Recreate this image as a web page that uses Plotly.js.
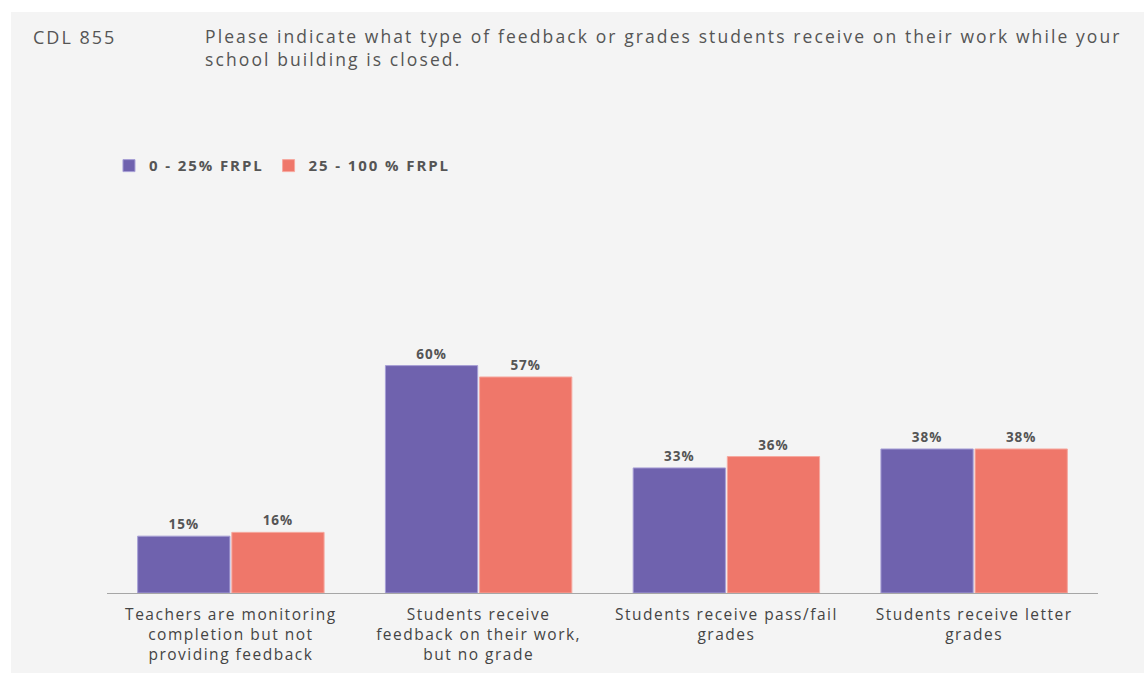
<!DOCTYPE html>
<html>
<head>
<meta charset="utf-8">
<script src="https://cdn.plot.ly/plotly-3.0.1.min.js"></script>
<style>
  html, body { margin: 0; padding: 0; background: #ffffff; width: 1144px; height: 673px; overflow: hidden; }
  #chart { position: absolute; left: 11px; top: 12px; width: 1133px; height: 661px; }
  .xtick text { letter-spacing: 1.5px; }
  .legendtext { letter-spacing: 1.9px; }
  .bartext { letter-spacing: 1px; }
  .annotation[data-index="0"] text { letter-spacing: 2px; }
  .annotation[data-index="1"] text { letter-spacing: 2.1px; }
</style>
</head>
<body>
<div id="chart"></div>
<script>
const categories = [
  "Teachers are monitoring<br>completion but not<br>providing feedback",
  "Students receive<br>feedback on their work,<br>but no grade",
  "Students receive pass/fail<br>grades",
  "Students receive letter<br>grades"
];
const seriesNames = ["0 - 25% FRPL", "25 - 100 % FRPL"];
const lowFRPL = [15, 60, 33, 38];
const highFRPL = [16, 57, 36, 38];
const colors = ["#6f62ae", "#ef776a"];
const lineColors = ["#a79fd6", "#f6a89f"];

const font = "'Open Sans', 'Noto Sans', sans-serif";

function mk(name, vals, i) {
  return {
    type: "bar",
    name: name,
    x: categories,
    y: vals,
    text: vals.map(v => "<b>" + v + "%</b>"),
    textposition: "outside",
    cliponaxis: false,
    textfont: { family: font, size: 13.5, color: "#555555" },
    marker: { color: colors[i], line: { color: lineColors[i], width: 1 } },
    hoverinfo: "none"
  };
}

const data = [mk(seriesNames[0], lowFRPL, 0), mk(seriesNames[1], highFRPL, 1)];

const layout = {
  width: 1133,
  height: 661,
  paper_bgcolor: "#f4f4f4",
  plot_bgcolor: "rgba(0,0,0,0)",
  margin: { l: 96, r: 46, t: 202, b: 80 },
  barmode: "group",
  bargap: 0.24,
  bargroupgap: 0.02,
  showlegend: true,
  legend: {
    orientation: "h",
    x: 0.002, xref: "paper", xanchor: "left",
    y: 1.127, yanchor: "middle",
    font: { family: font, size: 15, color: "#555555", weight: "bold" },
    itemwidth: 30,
    traceorder: "normal",
    bgcolor: "rgba(0,0,0,0)"
  },
  xaxis: {
    showline: true,
    linecolor: "#a6a6a6",
    linewidth: 1,
    ticks: "",
    ticklabelstandoff: 7,
    showgrid: false,
    tickfont: { family: font, size: 15.5, color: "#444444" },
    fixedrange: true
  },
  yaxis: {
    range: [0, 100],
    visible: false,
    showgrid: false,
    zeroline: false,
    fixedrange: true
  },
  annotations: [
    {
      xref: "paper", yref: "paper",
      x: -0.0767, y: 1.467, xanchor: "left", yanchor: "middle",
      align: "left",
      text: "CDL 855", showarrow: false,
      font: { family: font, size: 18, color: "#555555" }
    },
    {
      xref: "paper", yref: "paper",
      x: 0.097, y: 1.5066, xanchor: "left", yanchor: "top",
      align: "left",
      text: "Please indicate what type of feedback or grades students receive on their work while your<br>school building is closed.",
      showarrow: false,
      font: { family: font, size: 17.5, color: "#555555" }
    }
  ]
};

Plotly.newPlot("chart", data, layout, { displayModeBar: false, staticPlot: true });
</script>
</body>
</html>
